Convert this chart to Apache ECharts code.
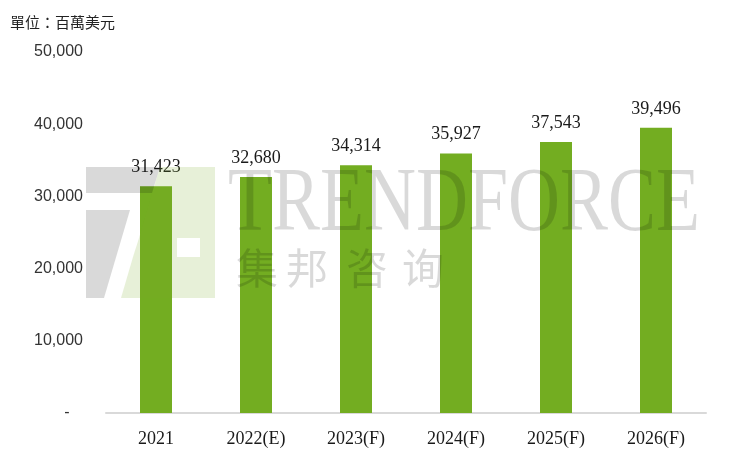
<!DOCTYPE html>
<html>
<head>
<meta charset="utf-8">
<script src="https://cdn.jsdelivr.net/npm/echarts@6/dist/echarts.min.js"></script>
<style>
html,body{margin:0;padding:0;background:#fff;}
#c{width:733px;height:469px;}
</style>
</head>
<body>
<div id="c"></div>
<script>
const categories = ['2021', '2022(E)', '2023(F)', '2024(F)', '2025(F)', '2026(F)'];
const values = [31423, 32680, 34314, 35927, 37543, 39496];
const yTicks = [0, 10000, 20000, 30000, 40000, 50000];
const unitLabel = '單位：百萬美元';

const chart = echarts.init(document.getElementById('c'));
const grey = 'rgba(0,0,0,0.15)';
const green = 'rgba(120,170,40,0.18)';
const wm = [];
// logo approximation
wm.push({type:'polygon', z:100, silent:true, shape:{points:[[86,167],[160,167],[152,193],[86,193]]}, style:{fill:grey}});
wm.push({type:'polygon', z:100, silent:true, shape:{points:[[86,210],[130,210],[104,298],[86,298]]}, style:{fill:grey}});
wm.push({type:'polygon', z:100, silent:true, shape:{points:[[160,167],[215,167],[215,238],[139,238]]}, style:{fill:green}});
wm.push({type:'polygon', z:100, silent:true, shape:{points:[[139,238],[177,238],[177,257],[133,257]]}, style:{fill:green}});
wm.push({type:'polygon', z:100, silent:true, shape:{points:[[200,238],[215,238],[215,257],[200,257]]}, style:{fill:green}});
wm.push({type:'polygon', z:100, silent:true, shape:{points:[[133,257],[215,257],[215,298],[121,298]]}, style:{fill:green}});
wm.push({type:'text', z:100, silent:true, x:228, y:206, scaleX:0.8, style:{text:'TRENDFORCE', x:0, y:0, fill:grey, font:'90px "Liberation Serif"', verticalAlign:'middle', align:'left'}});
const cn = ['集','邦','咨','询'];
const cx = [257, 307, 367, 423];
cn.forEach((ch,i)=>wm.push({type:'text', z:100, silent:true, style:{text:ch, x:cx[i], y:268, fill:grey, font:'42px "Noto Sans CJK SC"', align:'center', verticalAlign:'middle'}}));
wm.push({type:'text', z:101, style:{text:unitLabel, x:10, y:22, fill:'#222', font:'15px "Noto Sans CJK TC"', verticalAlign:'middle'}});

chart.setOption({
  animation:false,
  backgroundColor:'#fff',
  grid:{left:106, right:27, top:52, bottom:56, containLabel:false},
  xAxis:{
    type:'category', data:categories,
    axisLine:{lineStyle:{color:'#d9d9d9', width:2}},
    axisTick:{show:false},
    axisLabel:{color:'#1a1a1a', fontFamily:'Liberation Serif', fontSize:18, margin:17}
  },
  yAxis:{
    type:'value', min:yTicks[0], max:yTicks[yTicks.length-1], interval:yTicks[1]-yTicks[0],
    axisLine:{show:false}, axisTick:{show:false}, splitLine:{show:false},
    axisLabel:{color:'#333', fontFamily:'Liberation Sans', fontSize:16, margin:23,
      formatter:v=> v===0 ? '-   ' : v.toLocaleString('en-US')}
  },
  series:[{
    type:'bar', data:values, barWidth:32,
    itemStyle:{color:'#73ad21'},
    label:{show:true, position:'top', distance:10, color:'#1a1a1a', fontFamily:'Liberation Serif', fontSize:18,
      formatter:p=>p.value.toLocaleString('en-US')}
  }],
  graphic:wm
});
</script>
</body>
</html>
